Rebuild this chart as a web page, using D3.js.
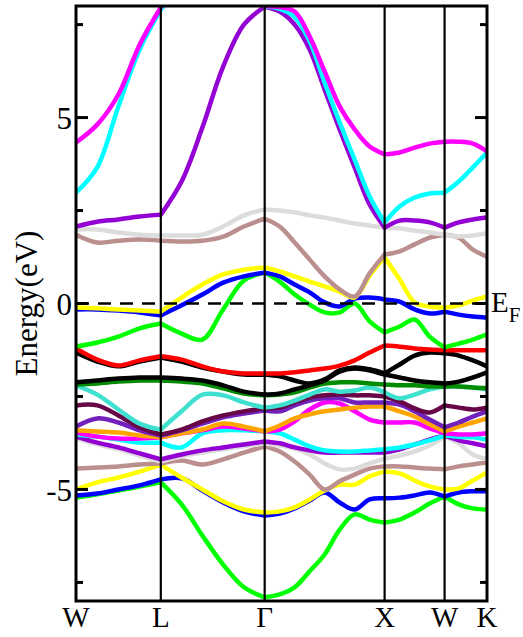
<!DOCTYPE html>
<html>
<head>
<meta charset="utf-8">
<script src="https://cdn.jsdelivr.net/npm/d3@7"></script>
<style>
  html, body { margin: 0; padding: 0; background: #ffffff; }
  svg { display: block; }
</style>
</head>
<body>
<script>
// High-symmetry path (distances along the FCC path, units of 2π/a)
const kNodes = [0, 0.7071, 1.5731, 2.5731, 3.0731, 3.4267];
const kLabels = ["W", "L", "\u0393", "X", "W", "K"];
// number of k intervals sampled on each segment
const segDivisions = [4, 5, 8, 4, 3];

const energyRange = [-8, 8];
const yMajorTicks = [-5, 0, 5];
const yMinorTicks = [-7.5, -2.5, 2.5, 7.5];

// band energies (eV) at the sampled k points, lowest band first
const band01 = [-5.22,-5.13,-5.03,-4.92,-4.81, -5.40,-6.24,-7.02,-7.63,-7.90, -7.82,-7.63,-7.20,-6.75,-6.08,-5.67,-5.81,-5.89, -5.81,-5.62,-5.38,-5.19, -5.40,-5.51,-5.54];
const band02 = [-5.16,-5.11,-5.00,-4.89,-4.73, -4.70,-5.03,-5.35,-5.59,-5.70, -5.65,-5.51,-5.30,-5.08,-5.35,-5.54,-5.27,-5.24, -5.22,-5.16,-5.08,-5.19, -5.08,-5.05,-5.05];
const band03 = [-5.00,-4.81,-4.68,-4.52,-4.33, -4.68,-5.00,-5.32,-5.54,-5.62, -5.59,-5.48,-5.27,-5.03,-4.87,-4.87,-4.65,-4.52, -4.57,-4.76,-4.92,-5.00, -4.97,-4.76,-4.54];
const band04 = [-4.44,-4.41,-4.38,-4.33,-4.30, -4.22,-4.33,-4.19,-4.01,-3.84, -3.98,-4.25,-4.60,-5.00,-4.78,-4.60,-4.44,-4.38, -4.38,-4.41,-4.44,-4.46, -4.38,-4.33,-4.27];
const band05 = [-3.63,-3.79,-3.92,-4.09,-4.25, -4.11,-4.01,-3.92,-3.84,-3.76, -3.82,-3.90,-4.06,-4.30,-4.46,-4.44,-4.30,-4.17, -4.09,-3.98,-3.82,-3.58, -3.76,-4.06,-4.19];
const band06 = [-3.58,-3.74,-3.87,-4.03,-4.19, -4.06,-3.95,-3.87,-3.79,-3.71, -3.76,-3.87,-3.95,-4.01,-4.01,-4.01,-4.01,-4.01, -3.92,-3.79,-3.66,-3.55, -3.68,-3.76,-3.84];
const band07 = [-3.52,-3.58,-3.66,-3.74,-3.74, -3.87,-3.49,-3.41,-3.41,-3.44, -3.49,-3.66,-3.84,-3.95,-3.98,-3.98,-3.95,-3.92, -3.87,-3.79,-3.68,-3.55, -3.58,-3.60,-3.66];
const band08 = [-3.47,-3.58,-3.63,-3.63,-3.60, -3.49,-3.41,-3.31,-3.36,-3.44, -3.39,-3.17,-2.85,-2.66,-2.69,-2.90,-3.12,-3.20, -3.20,-3.20,-3.36,-3.49, -3.52,-3.52,-3.49];
const band09 = [-3.41,-3.44,-3.47,-3.55,-3.60, -3.49,-3.39,-3.23,-3.31,-3.44, -3.28,-3.09,-2.98,-2.90,-2.85,-2.80,-2.77,-2.77, -2.90,-3.04,-3.25,-3.44, -3.31,-3.20,-3.09];
const band10 = [-3.31,-3.09,-3.20,-3.41,-3.55, -3.41,-3.23,-3.06,-2.96,-2.88, -2.90,-2.74,-2.61,-2.55,-2.55,-2.66,-2.66,-2.66, -2.72,-2.90,-3.12,-3.33, -3.20,-3.04,-2.90];
const band11 = [-2.74,-2.74,-3.01,-3.33,-3.52, -3.39,-3.17,-3.01,-2.90,-2.82, -2.80,-2.66,-2.53,-2.47,-2.45,-2.47,-2.47,-2.50, -2.63,-2.82,-2.93,-2.74, -2.80,-2.85,-2.80];
const band12 = [-2.20,-2.45,-2.85,-3.23,-3.39, -2.90,-2.45,-2.47,-2.66,-2.80, -2.74,-2.61,-2.45,-2.31,-2.37,-2.34,-2.26,-2.39, -2.55,-2.45,-2.31,-2.23, -2.23,-2.26,-2.31];
const band13 = [-2.18,-2.15,-2.10,-2.07,-2.07, -2.10,-2.15,-2.28,-2.42,-2.47, -2.45,-2.39,-2.26,-2.15,-2.12,-2.12,-2.15,-2.18, -2.20,-2.20,-2.23,-2.23, -2.23,-2.26,-2.28];
const band14 = [-2.12,-2.07,-2.02,-1.99,-1.99, -2.02,-2.07,-2.20,-2.37,-2.45, -2.42,-2.31,-2.20,-2.07,-1.83,-1.75,-1.80,-1.91, -1.99,-2.07,-2.12,-2.15, -2.10,-1.99,-1.85];
const band15 = [-1.32,-1.56,-1.69,-1.56,-1.45, -1.56,-1.72,-1.83,-1.91,-1.91, -1.96,-2.07,-2.15,-2.04,-1.80,-1.72,-1.77,-1.88, -1.64,-1.40,-1.32,-1.34, -1.40,-1.53,-1.69];
const band16 = [-1.21,-1.51,-1.67,-1.53,-1.42, -1.51,-1.69,-1.83,-1.88,-1.88, -1.88,-1.85,-1.80,-1.75,-1.67,-1.53,-1.32,-1.13, -1.16,-1.21,-1.24,-1.26, -1.26,-1.26,-1.26];
const band17 = [-1.16,-1.05,-0.89,-0.67,-0.54, -0.81,-0.97,-0.16,0.62,0.83, 0.59,0.24,-0.03,-0.24,-0.24,0.00,-0.48,-0.78, -0.62,-0.43,-0.89,-1.18, -1.08,-0.97,-0.83];
const band18 = [-0.16,-0.16,-0.19,-0.24,-0.32, -0.05,0.24,0.56,0.73,0.83, 0.73,0.51,0.30,0.03,-0.08,0.13,0.16,0.11, 0.05,-0.16,-0.27,-0.22, -0.30,-0.35,-0.38];
const band19 = [-0.11,-0.13,-0.16,-0.19,-0.22, 0.16,0.51,0.78,0.91,0.97, 0.86,0.73,0.59,0.46,0.32,0.16,0.75,1.24, 0.65,0.03,-0.08,-0.11, -0.05,0.08,0.19];
const band20 = [1.85,1.64,1.69,1.72,1.69, 1.67,1.69,1.80,2.07,2.28, 2.07,1.64,1.18,0.73,0.38,0.19,0.81,1.32, 1.40,1.59,1.77,1.85, 1.77,1.45,1.26];
const band21 = [1.99,1.99,1.91,1.85,1.83, 1.83,1.85,2.07,2.37,2.53, 2.50,2.45,2.37,2.31,2.23,2.15,2.10,2.04, 2.02,1.96,1.91,1.85, 1.80,1.83,1.88];
const band22 = [2.07,2.20,2.26,2.34,2.39, 3.28,4.73,6.37,7.50,7.98, 7.85,7.50,6.83,5.75,4.68,3.66,2.66,2.04, 2.23,2.23,2.18,2.04, 2.18,2.26,2.31];
const band23 = [2.98,3.66,5.30,6.83,7.90, 8.60,9.10,9.30,8.90,7.99, 7.92,7.70,7.05,5.94,4.87,3.87,2.88,2.18, 2.61,2.85,2.96,2.98, 3.28,3.66,4.06];
const band24 = [4.33,4.81,5.62,6.96,7.96, 8.90,9.60,9.90,9.50,8.00, 7.97,7.85,7.18,6.24,5.30,4.68,4.22,4.01, 4.06,4.19,4.30,4.35, 4.35,4.30,4.09];

const bands = [band01, band02, band03, band04, band05, band06, band07, band08,
               band09, band10, band11, band12, band13, band14, band15, band16,
               band17, band18, band19, band20, band21, band22, band23, band24];

// colour cycle used for the bands, in band order
const bandColors = [
  "#00ff00", "#0000ff", "#ffff00", "#bc8f8f", "#dcdcdc", "#9400d3", "#00ffff", "#ff00ff",
  "#ffa500", "#7221bc", "#670748", "#40e0d0", "#008b00", "#000000", "#000000", "#ff0000",
  "#00ff00", "#0000ff", "#ffff00", "#bc8f8f", "#dcdcdc", "#9400d3", "#00ffff", "#ff00ff"
];

const W = 523, H = 637;
const plot = { left: 76, right: 487, top: 6, bottom: 601 };

const svg = d3.select("body").append("svg")
  .attr("width", W).attr("height", H)
  .attr("viewBox", `0 0 ${W} ${H}`);

const x = d3.scaleLinear().domain([kNodes[0], kNodes[kNodes.length - 1]]).range([plot.left, plot.right]);
const y = d3.scaleLinear().domain(energyRange).range([plot.bottom, plot.top]);

// sampled k coordinates and the index range of each path segment
const kGrid = [];
const segments = [];
segDivisions.forEach((n, s) => {
  const a = kNodes[s], b = kNodes[s + 1];
  const start = kGrid.length === 0 ? 0 : kGrid.length - 1;
  for (let i = (s === 0 ? 0 : 1); i <= n; i++) kGrid.push(a + (b - a) * i / n);
  segments.push([start, kGrid.length - 1]);
});

svg.append("defs").append("clipPath").attr("id", "plotClip")
  .append("rect")
  .attr("x", plot.left).attr("y", plot.top)
  .attr("width", plot.right - plot.left).attr("height", plot.bottom - plot.top);

// bands
const line = d3.line()
  .x(d => x(d[0])).y(d => y(d[1]))
  .curve(d3.curveCatmullRom.alpha(0.5));

const bandGroup = svg.append("g").attr("clip-path", "url(#plotClip)");
bands.forEach((band, i) => {
  const pts = kGrid.map((k, j) => [k, band[j]]);
  const d = segments.map(([s, e]) => line(pts.slice(s, e + 1))).join("");
  bandGroup.append("path")
    .attr("d", d)
    .attr("fill", "none")
    .attr("stroke", bandColors[i])
    .attr("stroke-width", 4.5)
    .attr("stroke-linecap", "round")
    .attr("stroke-linejoin", "round");
});

// vertical lines at the high-symmetry points
svg.append("g").selectAll("line")
  .data(kNodes.slice(1, -1))
  .join("line")
  .attr("x1", d => x(d)).attr("x2", d => x(d))
  .attr("y1", plot.top).attr("y2", plot.bottom)
  .attr("stroke", "#000").attr("stroke-width", 2.2);

// Fermi level
svg.append("line")
  .attr("x1", plot.left).attr("x2", plot.right)
  .attr("y1", y(0)).attr("y2", y(0))
  .attr("stroke", "#000").attr("stroke-width", 2.5)
  .attr("stroke-dasharray", "13,9");

// frame
svg.append("rect")
  .attr("x", plot.left).attr("y", plot.top)
  .attr("width", plot.right - plot.left).attr("height", plot.bottom - plot.top)
  .attr("fill", "none").attr("stroke", "#000").attr("stroke-width", 3);

// inward ticks on both sides
const tickG = svg.append("g").attr("stroke", "#000").attr("stroke-width", 3);
const addTicks = (vals, len) => {
  vals.forEach(v => {
    tickG.append("line").attr("x1", plot.left).attr("x2", plot.left + len)
      .attr("y1", y(v)).attr("y2", y(v));
    tickG.append("line").attr("x1", plot.right).attr("x2", plot.right - len)
      .attr("y1", y(v)).attr("y2", y(v));
  });
};
addTicks(yMajorTicks, 12);
addTicks(yMinorTicks, 7);

const serif = "'Liberation Serif', 'Times New Roman', serif";

// y tick labels
svg.append("g").selectAll("text")
  .data(yMajorTicks)
  .join("text")
  .attr("x", 72).attr("y", d => y(d) + 11.5)
  .attr("text-anchor", "end")
  .attr("font-family", serif).attr("font-size", 31)
  .text(d => d);

// k-point labels
svg.append("g").selectAll("text")
  .data(kNodes)
  .join("text")
  .attr("x", d => x(d)).attr("y", 627)
  .attr("text-anchor", "middle")
  .attr("font-family", serif).attr("font-size", 29)
  .text((d, i) => kLabels[i]);

// axis title
svg.append("text")
  .attr("transform", `translate(37, ${y(0)}) rotate(-90)`)
  .attr("text-anchor", "middle")
  .attr("font-family", serif).attr("font-size", 31)
  .text("Energy(eV)");

// Fermi level label
const ef = svg.append("text")
  .attr("x", 491).attr("y", 312)
  .attr("font-family", serif).attr("font-size", 29);
ef.append("tspan").text("E");
ef.append("tspan").attr("font-size", 21).attr("dy", 10).text("F");
</script>
</body>
</html>
